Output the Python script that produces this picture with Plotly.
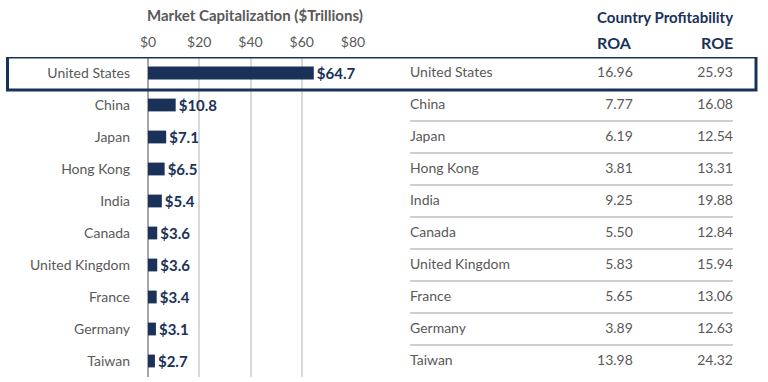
import plotly.graph_objects as go

countries = ["United States", "China", "Japan", "Hong Kong", "India", "Canada",
             "United Kingdom", "France", "Germany", "Taiwan"]
market_cap = [64.7, 10.8, 7.1, 6.5, 5.4, 3.6, 3.6, 3.4, 3.1, 2.7]
roa = ["16.96", "7.77", "6.19", "3.81", "9.25", "5.50", "5.83", "5.65", "3.89", "13.98"]
roe = ["25.93", "16.08", "12.54", "13.31", "19.88", "12.84", "15.94", "13.06", "12.63", "24.32"]
cap_ticks = [0, 20, 40, 60, 80]
cap_tick_labels = ["$0", "$20", "$40", "$60", "$80"]

W, H = 768, 382
NAVY = "#1a3258"
GRAY = "#595959"
FONT = "Lato, Roboto, sans-serif"

def px_x(p):
    return p / W

def px_y(p):
    return 1 - p / H

def f(size, color, bold=False):
    d = dict(family=FONT, size=size, color=color)
    if bold:
        d["weight"] = "bold"
    return d

fig = go.Figure()

fig.add_trace(go.Bar(
    x=market_cap, y=countries, orientation="h",
    marker=dict(color=NAVY, line=dict(width=0)),
    width=0.4,
    text=["$%.1f" % v for v in market_cap],
    textposition="outside",
    constraintext="none",
    textfont=f(15, NAVY, True),
    cliponaxis=False,
    xaxis="x", yaxis="y",
    hoverinfo="skip",
))

fig.add_trace(go.Scatter(
    x=[0] * len(countries), y=countries, mode="text",
    text=countries, textposition="middle right",
    textfont=f(14, GRAY),
    xaxis="x2", yaxis="y2", cliponaxis=False, hoverinfo="skip",
))
fig.add_trace(go.Scatter(
    x=[0.69] * len(countries), y=countries, mode="text",
    text=roa, textposition="middle left",
    textfont=f(14, GRAY),
    xaxis="x2", yaxis="y2", cliponaxis=False, hoverinfo="skip",
))
fig.add_trace(go.Scatter(
    x=[1.0] * len(countries), y=countries, mode="text",
    text=roe, textposition="middle left",
    textfont=f(14, GRAY),
    xaxis="x2", yaxis="y2", cliponaxis=False, hoverinfo="skip",
))

ydom = [px_y(377), px_y(57)]

fig.update_layout(
    width=W, height=H,
    margin=dict(l=0, r=0, t=0, b=0, autoexpand=False),
    paper_bgcolor="white", plot_bgcolor="white",
    showlegend=False,
    xaxis=dict(
        domain=[px_x(148), px_x(353)], range=[0, 80], automargin=False,
        side="top", tickvals=cap_ticks, ticktext=cap_tick_labels,
        showgrid=True, gridcolor="#d9d9d9", gridwidth=2,
        zeroline=True, zerolinecolor="#a6a6a6", zerolinewidth=2,
        showline=False, ticks="", ticklabelstandoff=6,
        tickfont=f(14, GRAY),
        fixedrange=True,
    ),
    yaxis=dict(
        domain=ydom, type="category", categoryorder="array", automargin=False,
        categoryarray=countries, range=[9.5, -0.5],
        showgrid=False, zeroline=False, showline=False, ticks="",
        ticklabelstandoff=17,
        tickfont=f(14, GRAY),
        fixedrange=True,
    ),
    xaxis2=dict(
        domain=[px_x(410), px_x(733)], range=[0, 1], automargin=False,
        visible=False, fixedrange=True,
    ),
    yaxis2=dict(
        domain=ydom, type="category", categoryorder="array", automargin=False,
        categoryarray=countries, range=[9.5, -0.5],
        visible=False, anchor="x2", fixedrange=True,
    ),
)

shapes = []
for i in range(1, len(countries) - 1):
    shapes.append(dict(
        type="line", xref="x2 domain", yref="y2",
        x0=0, x1=1, y0=i + 0.5, y1=i + 0.5,
        line=dict(color="#cfcfcf", width=2),
    ))
shapes.append(dict(
    type="rect", xref="paper", yref="y",
    x0=px_x(7.5), x1=px_x(756), y0=-0.5, y1=0.53,
    line=dict(color=NAVY, width=3), fillcolor="rgba(0,0,0,0)",
))
fig.update_layout(shapes=shapes)

annotations = [
    dict(text="Market Capitalization ($Trillions)", xref="paper", yref="paper",
         x=px_x(145), y=px_y(15), xanchor="left", yanchor="middle",
         showarrow=False, font=f(15, GRAY, True)),
    dict(text="Country Profitability", xref="paper", yref="paper",
         x=px_x(735), y=px_y(17), xanchor="right", yanchor="middle",
         showarrow=False, font=f(15, NAVY, True)),
    dict(text="ROA", xref="paper", yref="paper",
         x=px_x(634), y=px_y(42), xanchor="right", yanchor="middle",
         showarrow=False, font=f(16, NAVY, True)),
    dict(text="ROE", xref="paper", yref="paper",
         x=px_x(735), y=px_y(42), xanchor="right", yanchor="middle",
         showarrow=False, font=f(16, NAVY, True)),
]
fig.update_layout(annotations=annotations)

fig.write_html(
    "out.html",
    config={"displayModeBar": False},
    post_script="document.body.style.margin='0px';document.body.style.overflow='hidden';",
)
